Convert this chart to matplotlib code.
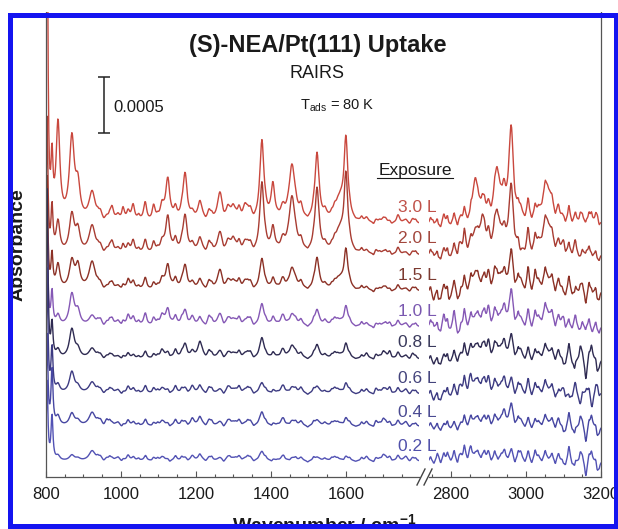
import numpy as np
import matplotlib
matplotlib.use('Agg')
import matplotlib.pyplot as plt
from matplotlib.lines import Line2D
from matplotlib.patches import Rectangle
from matplotlib.ticker import MultipleLocator

plt.rcParams['font.family'] = ['Liberation Sans', 'DejaVu Sans']
plt.rcParams['mathtext.fontset'] = 'custom'
plt.rcParams['mathtext.rm'] = 'Liberation Sans'
plt.rcParams['mathtext.it'] = 'Liberation Sans:italic'
plt.rcParams['mathtext.bf'] = 'Liberation Sans:bold'

W, H = 618, 529

# traces, top to bottom (absorbance values in units of 1e-4)
exposures = ['3.0 L', '2.0 L', '1.5 L', '1.0 L', '0.8 L', '0.6 L', '0.4 L', '0.2 L']
line_colors = ['#c9483e', '#a83c32', '#8c3126', '#8558b5', '#2f2b52', '#3d3b82', '#4747a2', '#5252b4']
label_colors = ['#c0524a', '#a2463c', '#7c3a30', '#7a58b0', '#3a3a5c', '#44447c', '#4a4a92', '#5050aa']
offsets = [22.6, 19.8, 16.6, 13.4, 10.5, 7.4, 4.5, 1.4]
label_y = [24.1, 21.3, 18.0, 14.8, 12.0, 8.8, 5.8, 2.7]

# artefact at the low-frequency edge
edge_pos = [803, 816]
edge_hw = [2.5, 3.0]
edge_h = [[30, 5], [12, 4], [10, 3], [9, 3], [15, 3], [11, 4], [8, 5], [7, 4]]

# main bands, 800-1800 region
band_pos = [832, 869, 885, 923, 1125, 1171, 1211, 1264, 1299, 1331, 1376, 1405, 1456, 1523, 1585, 1600]
band_hw = [6, 8, 7, 10, 7, 7, 8, 8, 7, 7, 6.5, 6, 10, 6.5, 14, 6]
band_h = [
    [8.6, 7.3, 2.8, 2.6, 3.9, 4.3, 1.5, 2.6, 1.2, 1.3, 7.1, 3.3, 5.1, 6.0, 1.8, 7.0],
    [2.8, 3.4, 1.9, 2.5, 3.4, 3.4, 1.1, 1.9, 1.2, 0.9, 6.2, 2.3, 5.1, 5.7, 1.8, 6.6],
    [2.2, 2.5, 2.0, 2.5, 2.3, 2.2, 0.7, 1.8, 0.7, 0.7, 2.7, 1.1, 2.0, 2.8, 0.9, 3.4],
    [0.9, 2.8, 1.2, 0.9, 1.6, 1.4, 0.5, 1.1, 0.5, 0.4, 1.9, 0.9, 1.1, 1.4, 0.4, 1.7],
    [0.7, 2.6, 0.7, 0.9, 0.6, 1.3, 1.3, 0.7, 0.4, 0.4, 1.8, 0.6, 1.2, 1.2, 0.3, 1.3],
    [0.7, 1.9, 0.5, 1.0, 0.4, 0.5, 0.5, 0.4, 0.3, 0.3, 0.9, 0.4, 0.6, 0.6, 0.2, 0.9],
    [0.8, 1.1, 0.4, 1.2, 0.3, 0.4, 0.6, 0.4, 0.3, 0.2, 1.2, 0.3, 0.5, 0.5, 0.2, 0.7],
    [0.4, 0.5, 0.2, 0.9, 0.2, 0.3, 0.4, 0.3, 0.2, 0.2, 0.8, 0.2, 0.3, 0.3, 0.1, 0.4],
]

# small features, 800-1800 region
minor_pos = [945, 962, 976, 992, 1005, 1020, 1032, 1048, 1064, 1087, 1109, 1145, 1190, 1235,
             1285, 1315, 1345, 1430, 1480, 1545, 1570, 1655, 1680, 1700, 1717, 1740, 1760, 1778]
minor_h = [
    [0.6, 0.3, 1.2, 0.5, 1.3, 0.6, 1.3, 0.6, 1.4, 1.4, 1.2, 0.8, 0.5, 0.8, 0.9, 1.0, 0.8, 0.7, 1.0, 0.9, 0.6, 0.4, 0.3, 0.4, 0.2, 0.5, 0.3, 0.4],
    [0.5, 0.3, 1.0, 0.4, 0.9, 0.5, 1.0, 0.5, 0.9, 1.0, 0.8, 0.9, 0.6, 0.9, 0.8, 0.9, 0.7, 0.7, 0.8, 0.8, 0.6, 0.3, 0.4, 0.2, 0.3, 0.4, 0.2, 0.3],
    [0.4, 0.2, 0.6, 0.3, 0.5, 0.7, 0.6, 0.4, 0.8, 0.6, 0.8, 0.7, 0.5, 0.7, 0.6, 0.8, 0.6, 0.7, 0.6, 0.6, 0.4, 0.3, 0.2, 0.3, 0.2, 0.3, 0.2, 0.3],
    [0.5, 0.3, 0.6, 0.4, 0.5, 0.7, 0.6, 0.5, 0.8, 0.7, 0.8, 0.6, 0.7, 0.8, 0.5, 0.7, 0.6, 0.7, 0.5, 0.7, 0.5, 0.3, 0.3, 0.2, 0.4, 0.3, 0.3, 0.2],
    [0.3, 0.2, 0.3, 0.2, 0.3, 0.3, 0.2, 0.3, 0.4, 0.4, 0.7, 0.6, 0.5, 0.6, 0.4, 0.6, 0.5, 0.6, 0.4, 0.5, 0.4, 0.5, 0.4, 0.6, 0.7, 0.4, 0.3, 0.5],
    [0.3, 0.2, 0.3, 0.3, 0.2, 0.4, 0.3, 0.3, 0.4, 0.5, 0.4, 0.5, 0.6, 0.5, 0.5, 0.6, 0.4, 0.5, 0.5, 0.4, 0.4, 0.4, 0.5, 0.4, 0.6, 0.3, 0.4, 0.3],
    [0.4, 0.5, 0.2, 0.3, 0.2, 0.3, 0.2, 0.3, 0.3, 0.3, 0.4, 0.4, 0.6, 0.5, 0.4, 0.5, 0.4, 0.5, 0.4, 0.5, 0.3, 0.4, 0.5, 0.6, 0.4, 0.3, 0.4, 0.2],
    [0.3, 0.2, 0.2, 0.3, 0.2, 0.3, 0.2, 0.3, 0.2, 0.3, 0.3, 0.3, 0.4, 0.3, 0.3, 0.4, 0.3, 0.3, 0.3, 0.4, 0.3, 0.4, 0.3, 0.5, 0.4, 0.3, 0.4, 0.3],
]

# fine baseline ripple (every 16 cm-1 from 938), shared shape, scaled per trace
fine_l = [0.3, -0.2, 0.4, 0.1, -0.3, 0.3, 0.2, -0.2, 0.4, -0.1, 0.3, 0.2, -0.3, 0.2, 0.4, -0.2, 0.1, 0.3,
          -0.2, 0.4, 0.0, -0.3, 0.3, 0.2, -0.1, 0.4, -0.2, 0.2, 0.3, -0.3, 0.1, 0.4, -0.2, 0.3, 0.0, -0.2,
          0.4, 0.1, -0.3, 0.3, 0.2, -0.2, 0.3, -0.1, 0.4, 0.0, -0.3, 0.2, 0.3, -0.2, 0.3, 0.1, -0.2, 0.3]
fine_l_scale = [0.9, 0.9, 0.8, 0.9, 0.7, 0.8, 0.8, 0.7]

# C-H stretch region
ch_pos = [2864, 2883, 2923, 2960, 3056]
ch_hw = [8, 8, 9, 8, 16]
ch_h = [
    [3.7, 1.8, 4.6, 8.0, 3.4],
    [1.8, 3.1, 3.7, 5.7, 3.1],
    [1.6, 0.9, 1.8, 3.1, 1.4],
    [0.9, 1.1, 1.2, 2.8, 1.5],
    [1.1, 1.2, 1.3, 1.8, 0.9],
    [1.1, 1.1, 0.9, 1.0, 0.7],
    [0.7, 0.6, 0.7, 1.7, 0.6],
    [0.7, 0.5, 0.4, 0.7, 0.4],
]
ripple_pos = [2752, 2766, 2780, 2794, 2808, 2822, 2836, 2850, 2900, 2940, 2985,
              3005, 3025, 3085, 3100, 3115, 3130, 3145, 3160, 3175, 3190]
ripple_h = [
    [0.4, -0.3, 0.5, -0.2, 0.4, 0.2, 0.6, -0.2, 0.8, 1.5, 0.6, 1.2, 0.5, 0.6, 0.2, 0.7, 0.3, 0.8, 0.4, 1.0, 0.6],
    [0.3, -0.4, 0.3, -0.3, 0.5, 0.8, 1.5, 0.4, 1.2, 1.0, -0.5, 1.5, 0.8, 0.4, 0.9, 0.2, 0.8, -0.3, 0.6, 0.2, -0.4],
    [-0.5, -0.9, 0.3, -1.0, 0.5, -0.6, 0.6, 0.2, 1.2, 0.8, 0.6, 1.3, 1.0, 0.4, -0.3, 0.5, -0.5, 0.6, -0.6, 0.4, -0.8],
    [0.5, -0.5, 0.8, -0.4, 1.0, -0.6, 0.9, 0.2, 1.3, 1.0, 0.4, 0.8, 0.6, 0.3, 0.7, -0.2, 0.5, -0.3, 0.3, -0.2, -0.3],
    [-0.2, -0.5, 0.2, -0.3, 0.4, 0.2, 0.8, 0.5, 1.2, 1.0, 0.6, 0.5, 0.3, 0.4, -0.6, 0.9, -1.2, 1.3, -1.5, 1.5, -1.2],
    [-0.3, -0.6, 0.0, -0.2, 0.4, 0.6, 0.9, 1.0, 1.1, 0.9, 0.6, 0.8, 0.4, -0.2, 0.5, -0.8, 0.7, -1.0, 0.9, -1.1, 0.8],
    [0.0, -0.2, 0.0, -0.1, 0.1, 0.0, 0.5, 0.3, 0.6, 0.9, 0.4, 0.3, 0.2, 0.4, -0.6, 0.8, -0.9, 1.0, -1.1, 1.2, -0.9],
    [0.0, 0.3, 0.4, 0.2, 0.5, 0.4, 0.8, 0.7, 0.6, 0.5, 0.7, 0.4, 0.5, 0.3, -0.3, 0.8, -0.7, 0.9, -1.0, 1.1, -0.9],
]

# fine noise (every 9 cm-1 from 2745), shared shape, scaled per trace
fine_r = [0.4, -0.3, 0.5, -0.4, 0.3, 0.6, -0.2, 0.4, -0.5, 0.3, 0.5, -0.3, 0.6, -0.2, 0.4, -0.4, 0.5,
          0.2, -0.3, 0.6, -0.4, 0.3, 0.5, -0.2, 0.4, -0.5, 0.6, 0.1, -0.3, 0.5, -0.4, 0.4, 0.3, -0.3,
          0.6, -0.2, 0.5, -0.5, 0.4, 0.2, -0.4, 0.6, -0.3, 0.5, -0.2, 0.4, -0.5, 0.6, -0.3, 0.5, -0.4]
fine_r_scale = [1.1, 1.1, 1.4, 1.3, 1.0, 1.1, 0.9, 1.0]

left_ticks = [800, 1000, 1200, 1400, 1600]
right_ticks = [2800, 3000, 3200]


def lorentz(w, pos, h, hw):
    return h / (1.0 + ((w - pos) / hw) ** 2)


def spectrum(w, positions, heights, widths):
    y = np.zeros_like(w)
    for p, h, hw in zip(positions, heights, widths):
        y += lorentz(w, p, h, hw)
    return y


def fx(x):
    return x / W


def fy(y):
    return 1 - y / H


fig = plt.figure(figsize=(W / 100, H / 100), dpi=100)
fig.patch.set_facecolor('white')

ax_l = fig.add_axes([fx(46), fy(477), (419 - 46) / W, 477 / H])
ax_r = fig.add_axes([fx(429), fy(477), (601 - 429) / W, 477 / H])

wl = np.arange(800, 1796, 1.5)
wr = np.arange(2741, 3201, 1.5)
fine_l_pos = 938 + 16 * np.arange(len(fine_l))
fine_r_pos = 2745 + 9 * np.arange(len(fine_r))

for i in range(len(exposures)):
    yl = offsets[i] + spectrum(wl, edge_pos, edge_h[i], edge_hw) \
        + spectrum(wl, band_pos, band_h[i], band_hw) \
        + spectrum(wl, minor_pos, minor_h[i], [5] * len(minor_pos)) \
        + spectrum(wl, fine_l_pos, np.array(fine_l) * fine_l_scale[i], [3.5] * len(fine_l))
    yr = offsets[i] + spectrum(wr, ch_pos, ch_h[i], ch_hw) \
        + spectrum(wr, ripple_pos, ripple_h[i], [4] * len(ripple_pos)) \
        + spectrum(wr, fine_r_pos, np.array(fine_r) * fine_r_scale[i], [2.5] * len(fine_r))
    ax_l.plot(wl, yl, color=line_colors[i], lw=1.0)
    ax_r.plot(wr, yr, color=line_colors[i], lw=1.0)
    ax_l.text(1843, label_y[i], exposures[i], ha='right', va='center',
              fontsize=12.5, color=label_colors[i], clip_on=False)

ymax = 477 / 11.2
for ax in (ax_l, ax_r):
    ax.set_ylim(0, ymax)
    ax.set_yticks([])
    ax.spines['top'].set_visible(False)
    for s in ax.spines.values():
        s.set_color('#555555')
        s.set_linewidth(0.9)
    ax.xaxis.set_minor_locator(MultipleLocator(50))
    ax.tick_params(axis='x', which='major', direction='in', length=4, width=0.8,
                   color='#555555', labelsize=12, pad=7, labelcolor='#1a1a1a')
    ax.tick_params(axis='x', which='minor', direction='in', length=2.5, width=0.8,
                   color='#555555')
    ax.patch.set_alpha(0)

ax_l.set_xlim(800, 1795)
ax_l.set_xticks(left_ticks)
ax_l.spines['right'].set_visible(False)
ax_r.set_xlim(2741, 3200)
ax_r.set_xticks(right_ticks)
ax_r.spines['left'].set_visible(False)

# scale bar
ax_l.errorbar(955, 33.2, yerr=2.5, color='#222222', lw=1.1, capsize=4.3, capthick=1.1)
ax_l.text(979, 33.0, '0.0005', ha='left', va='center', fontsize=12, color='#1a1a1a')

# exposure heading
ax_l.text(1785, 27.4, 'Exposure', ha='center', va='center', fontsize=12.5, color='#1a1a1a', clip_on=False)
fig.add_artist(Line2D([fx(377), fx(453)], [fy(178), fy(178)], color='#1a1a1a', lw=0.8))

# axis break marks
for dx in (0, 7):
    fig.add_artist(Line2D([fx(417 + dx), fx(425 + dx)], [fy(485), fy(469)],
                          color='#444444', lw=1.0))

fig.text(fx(318), fy(46), '(S)-NEA/Pt(111) Uptake', ha='center', va='center',
         fontsize=17, fontweight='bold', color='#1a1a1a')
fig.text(fx(317), fy(74), 'RAIRS', ha='center', va='center', fontsize=13, color='#1a1a1a')
fig.text(fx(337), fy(106), 'T$_{\\mathrm{ads}}$ = 80 K', ha='center', va='center',
         fontsize=10.5, color='#1a1a1a')
fig.text(fx(324), fy(513), 'Wavenumber / cm$^{\\mathbf{-1}}$', ha='center', va='top',
         fontsize=14, fontweight='bold', color='#1a1a1a')
fig.text(fx(18), fy(245), 'Absorbance', rotation=90, ha='center', va='center',
         fontsize=14, fontweight='bold', color='#1a1a1a')

# blue frame and the white margin outside it
for x0, y0, ww, hh in [(0, 0, W, 12), (0, 0, 7, H), (0, 528, W, 1)]:
    fig.add_artist(Rectangle((fx(x0), fy(y0 + hh)), ww / W, hh / H, transform=fig.transFigure,
                             facecolor='white', edgecolor='none', zorder=9))
fig.add_artist(Rectangle((fx(9.5), fy(525.5)), (615.5 - 9.5) / W, (525.5 - 14.5) / H,
                         transform=fig.transFigure, fill=False, edgecolor='#1414f0',
                         lw=3.6, zorder=10))

fig.savefig('out.png', dpi=100)
